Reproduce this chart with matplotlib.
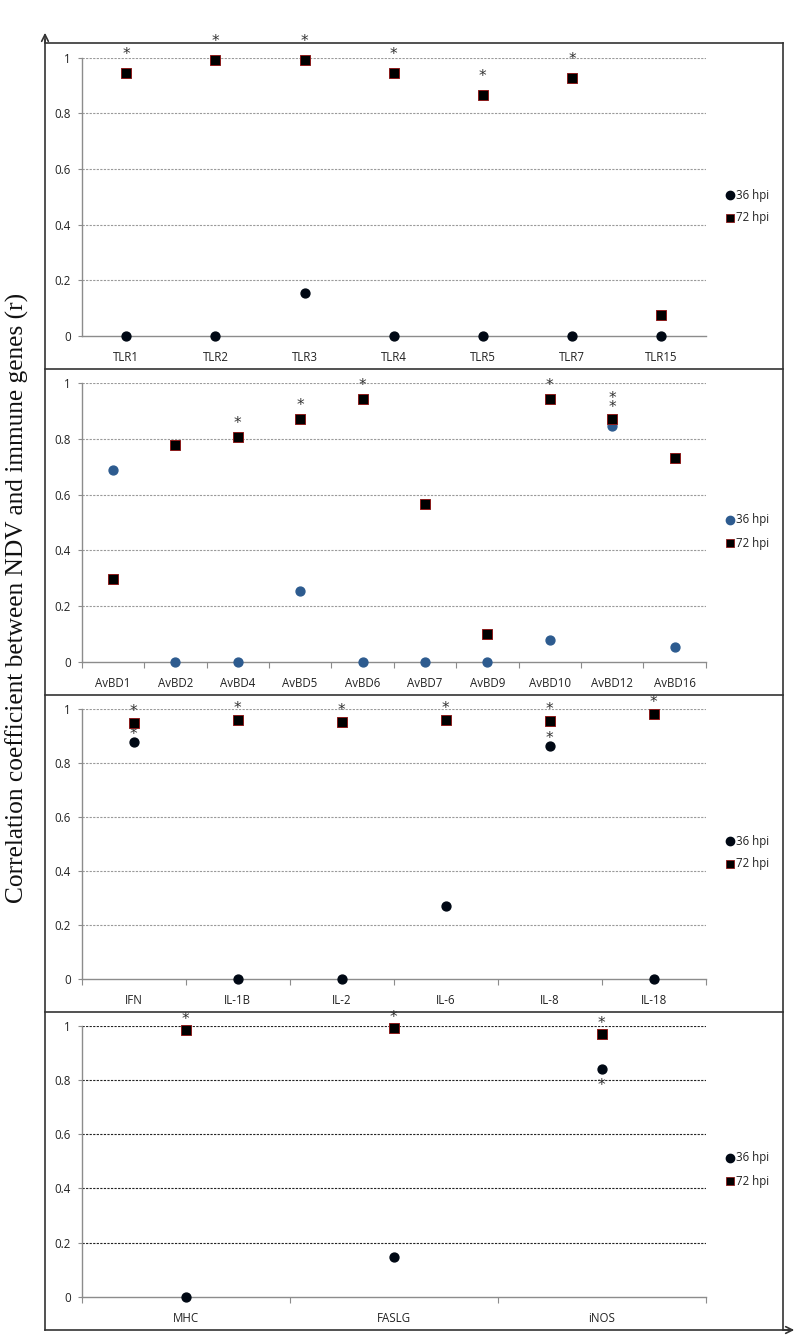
import matplotlib
matplotlib.use("Agg")
import matplotlib.pyplot as plt
from matplotlib.lines import Line2D

# ---------------- data ----------------
tlr_genes = ["TLR1", "TLR2", "TLR3", "TLR4", "TLR5", "TLR7", "TLR15"]
tlr_36 = [0, 0, 0.153, 0, 0, 0, 0]
tlr_72 = [0.946, 0.993, 0.99, 0.946, 0.867, 0.927, 0.075]
tlr_star72 = [1, 1, 1, 1, 1, 1, 0]
tlr_star36 = [0, 0, 0, 0, 0, 0, 0]

avbd_genes = ["AvBD1", "AvBD2", "AvBD4", "AvBD5", "AvBD6", "AvBD7", "AvBD9",
              "AvBD10", "AvBD12", "AvBD16"]
avbd_36 = [0.689, 0, 0, 0.254, 0, 0, 0, 0.078, 0.847, 0.054]
avbd_72 = [0.297, 0.778, 0.808, 0.872, 0.942, 0.566, 0.098, 0.942, 0.872, 0.732]
avbd_star72 = [0, 0, 1, 1, 1, 0, 0, 1, 2, 0]
avbd_star36 = [0, 0, 0, 0, 0, 0, 0, 0, 0, 0]

il_genes = ["IFN", "IL-1B", "IL-2", "IL-6", "IL-8", "IL-18"]
il_36 = [0.877, 0, 0, 0.269, 0.863, 0]
il_72 = [0.949, 0.959, 0.953, 0.960, 0.957, 0.983]
il_star72 = [1, 1, 1, 1, 1, 1]
il_star36 = [1, 0, 0, 0, 1, 0]

oth_genes = ["MHC", "FASLG", "iNOS"]
oth_36 = [0, 0.148, 0.840]
oth_72 = [0.985, 0.991, 0.970]
oth_star72 = [1, 1, 1]
oth_star36 = [0, 0, -1]   # -1: asterisk below the point

series_labels = ["36 hpi", "72 hpi"]
y_ticks = [0, 0.2, 0.4, 0.6, 0.8, 1.0]
y_ticklabels = ["0", "0.2", "0.4", "0.6", "0.8", "1"]
ylabel = "Correlation coefficient between NDV and immune genes (r)"

# ---------------- layout ----------------
W, H = 800, 1341
fig = plt.figure(figsize=(W / 100, H / 100), dpi=100)

def fx(px):
    return px / W

def fy(py):
    return 1 - py / H

PT = 0.72  # points per pixel at 100 dpi

ax_left, ax_right = 81.7, 705.7
panels = [
    dict(genes=tlr_genes, v36=tlr_36, v72=tlr_72, s72=tlr_star72, s36=tlr_star36,
         y0=336.0, y1=57.7, c36="#000814", xticks=False, grid="#9a9a9a",
         leg_y=(195, 218), star_off=22),
    dict(genes=avbd_genes, v36=avbd_36, v72=avbd_72, s72=avbd_star72, s36=avbd_star36,
         y0=661.7, y1=383.3, c36="#2d5b8f", xticks=True, grid="#9a9a9a",
         leg_y=(520, 543), star_off=17),
    dict(genes=il_genes, v36=il_36, v72=il_72, s72=il_star72, s36=il_star36,
         y0=979.0, y1=709.0, c36="#000814", xticks=True, grid="#9a9a9a",
         leg_y=(841, 864), star_off=15),
    dict(genes=oth_genes, v36=oth_36, v72=oth_72, s72=oth_star72, s36=oth_star36,
         y0=1296.7, y1=1026.0, c36="#000814", xticks=True, grid="#222222",
         leg_y=(1158, 1181), star_off=14),
]

tick_font = dict(family="Open Sans", size=8.3)
star_kw = dict(ha="center", va="center", fontsize=11, family="DejaVu Sans",
               color="#333333", annotation_clip=False, linespacing=0.55)
GLYPH_SHIFT = 3.5  # px: '*' glyph sits above the text-box centre

for p in panels:
    ax = fig.add_axes([fx(ax_left), fy(p["y0"]), fx(ax_right - ax_left),
                       (p["y0"] - p["y1"]) / H])
    n = len(p["genes"])
    x = [i + 0.5 for i in range(n)]
    ax.set_xlim(0, n)
    ax.set_ylim(0, 1)
    for s in ["top", "right"]:
        ax.spines[s].set_visible(False)
    for s in ["left", "bottom"]:
        ax.spines[s].set_color("#8c8c8c")
        ax.spines[s].set_linewidth(1.0)
    for yv in y_ticks[1:]:
        ax.axhline(yv, color=p["grid"], lw=0.8, ls=(0, (2, 1.2)), zorder=1)
    ax.set_yticks(y_ticks)
    ax.set_yticklabels(y_ticklabels, **tick_font, color="#222222")
    ax.tick_params(axis="y", length=3, width=0.8, color="#8c8c8c", pad=5)
    if p["xticks"]:
        ax.set_xticks(range(n + 1))
        ax.set_xticklabels([""] * (n + 1))
        ax.tick_params(axis="x", length=4, width=0.8, color="#8c8c8c", direction="out")
    else:
        ax.set_xticks([])
    for xi, g in zip(x, p["genes"]):
        ax.annotate(g, (xi, 0), xytext=(0, -11), textcoords="offset points",
                    ha="center", va="top", color="#222222", **tick_font,
                    annotation_clip=False)
    ax.plot(x, p["v36"], ls="none", marker="o", ms=6.4, color=p["c36"],
            mec=p["c36"], clip_on=False, zorder=4)
    ax.plot(x, p["v72"], ls="none", marker="s", ms=7.2, color="#000000",
            mec="#8b1a1a", mew=0.7, clip_on=False, zorder=5)
    for xi, v, s in zip(x, p["v72"], p["s72"]):
        if s > 0:
            txt = "\n".join(["*"] * s)
            off = (p["star_off"] - GLYPH_SHIFT + 4.5 * (s - 1)) * PT
            if s > 1:
                off = (p["star_off"] - 2 - GLYPH_SHIFT + 4.5 * (s - 1)) * PT
            ax.annotate(txt, (xi, v), xytext=(0, off), textcoords="offset points",
                        **star_kw)
    for xi, v, s in zip(x, p["v36"], p["s36"]):
        if s == 1:
            ax.annotate("*", (xi, v), xytext=(0, (11 - GLYPH_SHIFT) * PT),
                        textcoords="offset points", **star_kw)
        elif s == -1:
            ax.annotate("*", (xi, v), xytext=(0, -(13 + GLYPH_SHIFT) * PT),
                        textcoords="offset points", **star_kw)
    # legend
    ly36, ly72 = p["leg_y"]
    fig.add_artist(Line2D([fx(730)], [fy(ly36)], marker="o", ms=6.0, color=p["c36"], ls="none"))
    fig.add_artist(Line2D([fx(730)], [fy(ly72)], marker="s", ms=6.0, color="#000000",
                          mec="#8b1a1a", mew=0.6, ls="none"))
    fig.text(fx(736), fy(ly36), series_labels[0], ha="left", va="center",
             color="#222222", **tick_font)
    fig.text(fx(736), fy(ly72), series_labels[1], ha="left", va="center",
             color="#222222", **tick_font)

# outer frame & separators
frame_kw = dict(color="#333333", lw=1.2)
fig.add_artist(Line2D([fx(45), fx(783)], [fy(43), fy(43)], **frame_kw))
fig.add_artist(Line2D([fx(783), fx(783)], [fy(43), fy(1330)], **frame_kw))
for yy in [369, 695, 1012]:
    fig.add_artist(Line2D([fx(45), fx(783)], [fy(yy), fy(yy)], **frame_kw))
fig.add_artist(Line2D([fx(45), fx(45)], [fy(40), fy(1330)], **frame_kw))
fig.add_artist(Line2D([fx(45), fx(792)], [fy(1330), fy(1330)], **frame_kw))
fig.add_artist(plt.Annotation("", xy=(fx(45), fy(30)), xytext=(fx(45), fy(45)),
                              xycoords="figure fraction", textcoords="figure fraction",
                              arrowprops=dict(arrowstyle="->", color="#333333", lw=1.2,
                                              mutation_scale=12)))
fig.add_artist(plt.Annotation("", xy=(fx(797), fy(1330)), xytext=(fx(780), fy(1330)),
                              xycoords="figure fraction", textcoords="figure fraction",
                              arrowprops=dict(arrowstyle="->", color="#333333", lw=1.2,
                                              mutation_scale=12)))

fig.text(fx(17), fy(598), ylabel, rotation=90, ha="center", va="center",
         family="Liberation Serif", fontsize=18.3, color="#111111")

fig.savefig("out.png", dpi=100)
